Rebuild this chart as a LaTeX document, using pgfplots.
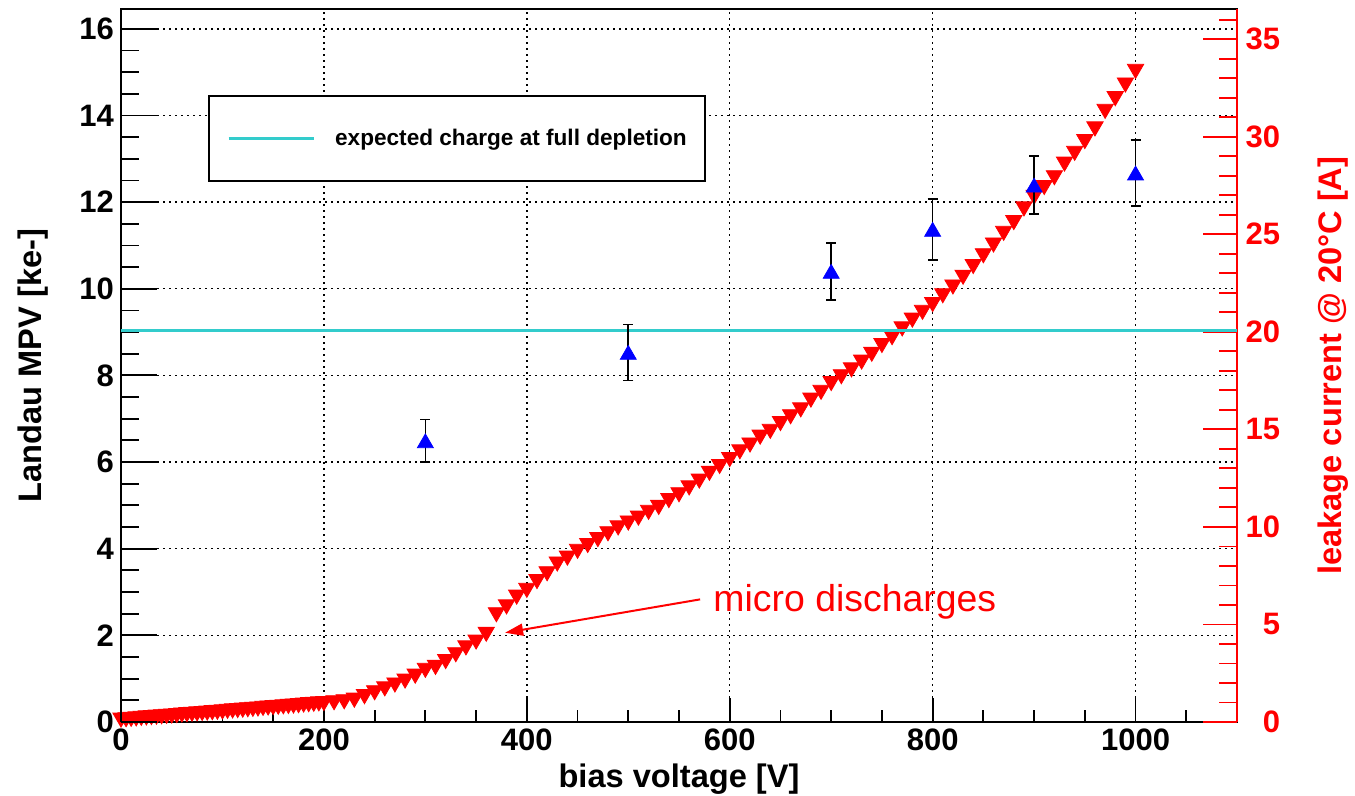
\documentclass[border=0pt]{standalone}
\usepackage{pgfplots}
\usepackage{pgfplotstable}
\pgfplotsset{compat=1.18}
\usepackage{fontspec}
\setmainfont{Liberation Sans}
\usetikzlibrary{arrows.meta}
\definecolor{rootcyan}{RGB}{51,204,204}

\pgfplotstableread{
V I
0 0.10
5 0.12
10 0.14
15 0.16
20 0.19
25 0.21
30 0.23
35 0.25
40 0.27
45 0.29
50 0.31
55 0.33
60 0.36
65 0.38
70 0.40
75 0.42
80 0.44
85 0.46
90 0.48
95 0.50
100 0.52
105 0.55
110 0.57
115 0.59
120 0.61
125 0.63
130 0.65
135 0.67
140 0.70
145 0.72
150 0.74
155 0.76
160 0.78
165 0.80
170 0.82
175 0.84
180 0.87
185 0.89
190 0.91
195 0.93
200 0.95
210 0.99
220 1.04
230 1.12
240 1.30
250 1.50
260 1.70
270 1.90
280 2.10
290 2.35
300 2.65
310 2.80
320 3.10
330 3.45
340 3.80
350 4.10
360 4.50
370 5.50
380 5.90
390 6.40
400 6.75
410 7.20
420 7.60
430 8.10
440 8.40
450 8.75
460 9.05
470 9.35
480 9.65
490 9.95
500 10.20
510 10.45
520 10.75
530 11.00
540 11.35
550 11.65
560 12.00
570 12.35
580 12.75
590 13.10
600 13.45
610 13.85
620 14.20
630 14.60
640 14.90
650 15.30
660 15.65
670 16.00
680 16.50
690 16.90
700 17.35
710 17.70
720 18.05
730 18.45
740 18.85
750 19.30
760 19.70
770 20.15
780 20.60
790 21.00
800 21.40
810 21.85
820 22.30
830 22.80
840 23.35
850 23.90
860 24.45
870 25.05
880 25.60
890 26.30
900 26.90
910 27.40
920 27.90
930 28.60
940 29.15
950 29.75
960 30.40
970 31.30
980 31.95
990 32.65
1000 33.35
}\leakage

\pgfplotstableread{
V Q E
300 6.49 0.49
500 8.53 0.645
700 10.40 0.66
800 11.37 0.70
900 12.39 0.67
1000 12.67 0.76
}\mpv

\newcommand{\tickfont}{\fontsize{15.5}{18}\selectfont\bfseries}
\newcommand{\labfont}{\fontsize{16.3}{19}\selectfont\bfseries}
\newcommand{\legfont}{\fontsize{11.3}{13.5}\selectfont\bfseries}

\pgfplotsset{
  base/.style={
    at={(60.5pt,37pt)}, anchor=south west,
    width=558pt, height=356.35pt, scale only axis,
    xmin=0, xmax=1100,
    tick align=inside,
    tick label style={font=\tickfont},
    /pgf/number format/assume math mode=true,
    /pgf/number format/1000 sep={},
    label style={font=\labfont},
    axis line style={line width=0.9pt},
    tick style={line width=0.9pt, black},
  }
}

\begin{document}
\begin{tikzpicture}
\path[use as bounding box] (0,0) rectangle (677.5pt,398pt);
% frame, x axis and grid
\begin{axis}[base, ymin=0, ymax=16.45,
  xtick={0,200,...,1000}, minor xtick={50,100,...,1050},
  ytick={0,2,...,16}, yticklabels={}, ytick style={draw=none},
  xtick pos=bottom, ytick pos=left,
  major tick length=12pt, minor tick length=6pt,
  xmajorgrids, ymajorgrids,
  major grid style={black, line width=0.75pt, dash pattern=on 0.75pt off 2.25pt},
  xlabel={bias voltage [V]},
  xlabel style={at={(axis description cs:0.5,-0.08)}, anchor=center},
]
\addplot[draw=none] coordinates {(0,0)};
\end{axis}
% right axis: leakage current
\begin{axis}[base, ymin=0, ymax=36.53,
  axis y line*=right, axis x line=none,
  ytick={0,5,...,35}, minor ytick={1,2,...,36},
  major tick length=17pt, minor tick length=9pt,
  y axis line style={red, line width=0.9pt, -},
  ytick style={red, line width=0.9pt},
  yticklabel style={red, anchor=west, text width=18pt, align=right},
  ylabel={leakage current @ 20°C [A]},
  ylabel style={red, at={(axis description cs:1.086,0.5)}, anchor=center},
  clip=false,
]
\addplot[only marks, red, mark=triangle*, mark size=4.7pt,
  mark options={fill=red, draw=red, yshift=1.15pt, rotate=180}]
  table[x=V, y=I] {\leakage};
\end{axis}
% left axis: Landau MPV
\begin{axis}[base, ymin=0, ymax=16.45,
  axis y line*=left, axis x line=none,
  ytick={0,2,...,16}, minor ytick={0.5,1,...,16},
  major tick length=18pt, minor tick length=9pt,
  y axis line style={black, line width=0.9pt, -},
  ytick style={black, line width=0.9pt},
  ylabel={Landau MPV [ke-]},
  ylabel style={at={(axis description cs:-0.0789,0.5)}, anchor=center},
  legend style={at={(axis description cs:0.0782,0.8798)}, anchor=north west,
    draw=black, line width=0.9pt, font=\legfont, inner xsep=9pt, inner ysep=16.5pt,
    nodes={inner sep=0pt}},
  legend image code/.code={\draw[#1] (0pt,0pt) -- (42.5pt,0pt); \path (52.5pt,0pt);},
  clip=false,
]
\addplot[rootcyan, line width=1.5pt] coordinates {(0,9.03) (1100,9.03)};
\addlegendentry{expected charge at full depletion}
\addplot[only marks, blue, mark=triangle*, mark size=4.6pt,
  mark options={fill=blue, draw=blue, yshift=-1.15pt},
  error bars/.cd, y dir=both, y explicit,
  error bar style={black, line width=0.8pt},
  error mark options={black, line width=0.8pt, mark size=2.5pt, rotate=90}]
  table[x=V, y=Q, y error=E] {\mpv};
\draw[red, line width=1pt, -{Triangle[length=9pt, width=6pt]}] (axis cs:570.8,2.83) -- (axis cs:378.6,2.06);
\node[red, anchor=base west, font=\fontsize{18.7}{22}\selectfont, inner sep=0pt] at (axis cs:583.6,2.55) {micro discharges};
\end{axis}
\end{tikzpicture}
\end{document}
